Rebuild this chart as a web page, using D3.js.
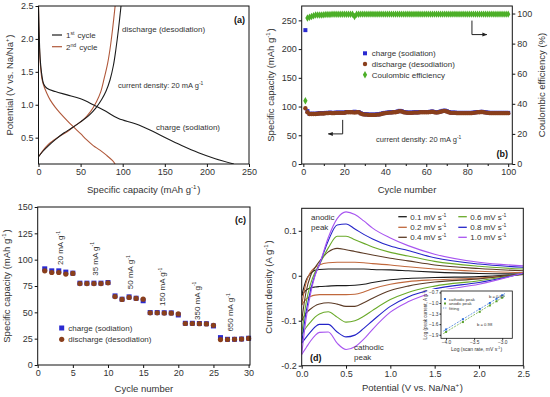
<!DOCTYPE html>
<html>
<head>
<meta charset="utf-8">
<script src="https://cdn.jsdelivr.net/npm/d3@7"></script>
<style>
  body { margin: 0; background: #fff; }
  svg text { font-family: "Liberation Sans", Arial, sans-serif; fill: #333; }
</style>
</head>
<body>
<svg id="fig" width="550" height="397"></svg>
<script>
// ---------- (a) galvanostatic profiles ----------
var charge1Cap = [0, 1, 2, 4, 6, 10, 20, 34, 50, 65, 80, 95, 115, 135, 152, 170, 190, 210, 232];
var charge1V   = [2.5, 2.0, 1.7, 1.45, 1.32, 1.25, 1.2, 1.15, 1.09, 1.0, 0.9, 0.79, 0.71, 0.6, 0.49, 0.38, 0.27, 0.18, 0.1];
var disch1Cap  = [0, 5, 12, 20, 30, 40, 50, 60, 68, 75, 80, 85, 89, 92, 95, 98];
var disch1V    = [0.21, 0.29, 0.38, 0.47, 0.57, 0.65, 0.74, 0.84, 0.95, 1.08, 1.2, 1.38, 1.6, 1.85, 2.15, 2.5];
var charge2Cap = [0, 0.8, 2, 4, 6, 10, 14, 20, 26, 34, 41, 50, 57, 65, 73, 81, 88, 91];
var charge2V   = [2.5, 2.0, 1.65, 1.4, 1.3, 1.17, 1.07, 0.96, 0.87, 0.76, 0.67, 0.56, 0.47, 0.38, 0.31, 0.23, 0.15, 0.1];
var disch2Cap  = [0, 5, 12, 18, 26, 34, 43, 53, 62, 69, 74, 78, 82, 85, 88, 91];
var disch2V    = [0.21, 0.3, 0.4, 0.46, 0.53, 0.59, 0.68, 0.77, 0.9, 1.05, 1.2, 1.4, 1.62, 1.85, 2.15, 2.5];

// ---------- (b) cycling at 20 mA/g ----------
var chargeB = [233,92,87.5,87.5,87.5,87.5,88,88.5,88.5,88.5, 89,89,89.5,89,89,89.5,89.5,89.5,89.5,89.5,
  90.5,90.5,90.5,90.5,91,90.5,90.5,88.5,87,86.5, 86.5,86,86,86,86,86.5,86.5,87.5,88.5,89,
  89.5,90,90,90.5,90.5,91.5,92.5,92,90.5,90, 89.5,89.5,89.5,90,90,90,90.5,90.5,90.5,90.5,
  90.5,91,91.5,90.5,90,90.5,91.5,92.5,93,92, 90.5,89.5,89.5,89.5,89,89,89,89,89,89,
  89,89,89.5,90,90.5,90.5,91,90.5,90,89.5, 89,89,89,89,89,89,89,89,89,89];
var dischargeB = [97,90,87,87,87,87,87.5,88,88,88, 88.5,88.5,89,88.5,88.5,89,89,89,89,89,
  90,90,90,90,89.5,90,90,88,86.5,86, 86,85.5,85.5,85.5,85.5,86,86,87,88,88.5,
  89,89.5,89.5,90,90,91,92,91.5,90,89.5, 89,89,89,89.5,89.5,89.5,90,90,90,90,
  90,90.5,91,90,89.5,90,91,92,92.5,91.5, 90,89,89,89,88.5,88.5,88.5,88.5,88.5,88.5,
  88.5,88.5,89,89.5,90,90,90.5,90,89.5,89, 88.5,88.5,88.5,88.5,88.5,88.5,88.5,88.5,88.5,88.5];
var ceB = [42,97,97.5,98,98.5,99,99,99,99,99.2, 99.3,99.4,99.4,99.5,99.5,99.5,99.5,99.5,99.5,99.5,
  99.5,99.5,99.5,99.5,98,99.5,99.5,99.6,99.6,99.6, 99.6,99.6,99.6,99.6,99.6,99.6,99.6,99.6,99.6,99.6,
  99.6,99.6,99.6,99.6,99.6,99.6,99.6,99.6,99.6,99.6, 99.6,99.6,99.6,99.6,99.6,99.6,99.6,99.6,99.6,99.6,
  99.6,99.6,99.6,99.6,99.6,99.6,99.6,99.6,99.6,99.6, 99.6,99.6,99.6,99.6,99.6,99.6,99.6,99.6,99.6,99.6,
  99.6,99.6,99.6,99.6,99.6,99.6,99.6,99.6,99.6,99.6, 99.6,99.6,99.6,99.6,99.6,99.6,99.6,99.6,99.6,99.6];

// ---------- (c) rate capability ----------
var chargeC = [91.3,89.4,89.4,88.2,87.2, 77.7,77.7,77.7,77.7,78.3, 65.6,62.5,64.7,63.4,61.0,
  49.8,49.8,49.6,49.5,47.5, 39.6,39.6,39.4,39.2,37.1, 26.0,24.4,24.4,24.7,25.4];
var dischargeC = [89.4,87.8,87.8,86.3,86.9, 77.3,77.3,77.3,77.3,78.0, 65.0,62.3,64.2,63.2,62.5,
  49.5,49.5,49.3,49.2,48.5, 39.4,39.4,39.2,39.0,37.7, 24.1,24.2,24.4,24.6,25.2];
var rateLabels = ["20", "35", "50", "150", "350", "650"];
var rateX = [3.2, 8.1, 13.1, 17.7, 22.6, 27.4];
var rateY = [95, 84.7, 72, 56, 42.8, 31.7];

// ---------- (d) cyclic voltammetry ----------
var cvV = [0, 0.05, 0.1, 0.15, 0.2, 0.3, 0.4, 0.5, 0.6, 0.7, 0.8, 1.0, 1.2, 1.5, 2.0, 2.5];
var scanRates = ["0.1", "0.2", "0.4", "0.6", "0.8", "1.0"];
var cvColors = ["#1c1c1c", "#c0683c", "#5c3b26", "#6aaa2a", "#2424c8", "#a855f0"];
var cvAnodic = [
  [-0.044, -0.01, 0.005, 0.012, 0.014, 0.015, 0.015, 0.015, 0.015, 0.015, 0.014, 0.013, 0.011, 0.008, 0.005, 0.004],
  [-0.065, -0.015, 0.008, 0.018, 0.024, 0.029, 0.030, 0.030, 0.030, 0.029, 0.027, 0.024, 0.020, 0.015, 0.010, 0.007],
  [-0.10, -0.035, 0.0, 0.018, 0.032, 0.053, 0.061, 0.058, 0.054, 0.050, 0.046, 0.039, 0.033, 0.024, 0.016, 0.011],
  [-0.13, -0.06, -0.018, 0.008, 0.025, 0.062, 0.088, 0.088, 0.080, 0.072, 0.064, 0.052, 0.044, 0.032, 0.021, 0.015],
  [-0.15, -0.08, -0.032, 0.002, 0.025, 0.078, 0.113, 0.115, 0.104, 0.092, 0.082, 0.066, 0.056, 0.040, 0.026, 0.019],
  [-0.175, -0.095, -0.04, 0.0, 0.025, 0.085, 0.127, 0.142, 0.136, 0.122, 0.106, 0.084, 0.067, 0.048, 0.030, 0.022]
];
var cvCathodic = [
  [-0.044, -0.032, -0.027, -0.025, -0.024, -0.023, -0.022, -0.022, -0.021, -0.019, -0.015, -0.009, -0.006, -0.004, -0.002, 0.003],
  [-0.065, -0.052, -0.046, -0.043, -0.042, -0.042, -0.042, -0.042, -0.041, -0.036, -0.029, -0.019, -0.013, -0.009, -0.005, 0.003],
  [-0.10, -0.083, -0.074, -0.067, -0.063, -0.060, -0.063, -0.068, -0.068, -0.060, -0.050, -0.033, -0.023, -0.014, -0.007, 0.004],
  [-0.13, -0.115, -0.103, -0.092, -0.085, -0.080, -0.092, -0.103, -0.100, -0.090, -0.077, -0.053, -0.037, -0.023, -0.011, 0.004],
  [-0.15, -0.137, -0.125, -0.114, -0.108, -0.108, -0.125, -0.136, -0.132, -0.117, -0.100, -0.068, -0.047, -0.029, -0.015, 0.005],
  [-0.175, -0.16, -0.145, -0.133, -0.126, -0.125, -0.150, -0.164, -0.158, -0.141, -0.119, -0.081, -0.058, -0.036, -0.019, 0.006]
];
// inset: log peak current vs log scan rate
var logRate = [-4.0, -3.7, -3.4, -3.22, -3.1, -3.0];
var logCathodic = [-1.75, -1.46, -1.17, -1.0, -0.88, -0.78];
var logAnodic = [-1.82, -1.54, -1.25, -1.07, -0.95, -0.85];

var svg = d3.select("#fig");
var TICK = 9, LAB = 9.5;
var blue = "#2a2ad0", brown = "#8a3f1c", green = "#4caf28";

svg.append("defs").append("marker")
  .attr("id", "ah").attr("viewBox", "0 0 10 10").attr("refX", 9).attr("refY", 5)
  .attr("markerWidth", 5).attr("markerHeight", 5).attr("orient", "auto")
  .append("path").attr("d", "M0,1L10,5L0,9Z").attr("fill", "#222");

// text with superscripts: parts = ["text", {sup:"-1"}, ...]
function rich(t, parts, fs) {
  var shift = fs * 0.4;
  parts.forEach(function(p) {
    if (typeof p === "string") {
      t.append("tspan").text(p);
    } else {
      t.append("tspan").attr("dy", -shift).attr("font-size", fs * 0.65).text(p.sup);
      t.append("tspan").attr("dy", shift).text("\u200a");
    }
  });
  return t;
}

function addText(g, x, y, parts, fs, opt) {
  opt = opt || {};
  var t = g.append("text").attr("x", x).attr("y", y).attr("font-size", fs)
    .attr("text-anchor", opt.anchor || "start");
  if (opt.bold) t.attr("font-weight", "bold").style("fill", "#111");
  if (opt.rotate) t.attr("transform", "rotate(-90," + x + "," + y + ")");
  return rich(t, parts, fs);
}

function frame(L, R, T, B) {
  svg.append("rect").attr("x", L).attr("y", T).attr("width", R - L).attr("height", B - T)
    .attr("fill", "none").attr("stroke", "#111").attr("stroke-width", 1);
}

function styleAxis(g) {
  g.select(".domain").remove();
  g.selectAll(".tick line").attr("stroke", "#111");
  g.selectAll(".tick text").attr("font-size", TICK).style("fill", "#333")
    .attr("font-family", "Liberation Sans, Arial, sans-serif");
}

// ================= (a) =================
(function() {
  var L = 38.5, R = 249, T = 6, B = 164;
  var x = d3.scaleLinear().domain([0, 250]).range([L, R]);
  var y = d3.scaleLinear().domain([0.1, 2.5]).range([B, T]);
  svg.append("g").attr("transform", "translate(0," + B + ")")
    .call(d3.axisBottom(x).tickValues([0, 50, 100, 150, 200, 250]).tickSize(3).tickPadding(2)).call(styleAxis);
  svg.append("g").attr("transform", "translate(" + L + ",0)")
    .call(d3.axisLeft(y).tickValues([0.5, 1.0, 1.5, 2.0, 2.5]).tickFormat(d3.format(".1f")).tickSize(3).tickPadding(2)).call(styleAxis);
  var clip = svg.append("clipPath").attr("id", "clipA").append("rect")
    .attr("x", L).attr("y", T).attr("width", R - L).attr("height", B - T);
  var g = svg.append("g").attr("clip-path", "url(#clipA)");
  var line = d3.line().x(function(d) { return x(d[0]); }).y(function(d) { return y(d[1]); }).curve(d3.curveMonotoneY);
  var line2 = d3.line().x(function(d) { return x(d[0]); }).y(function(d) { return y(d[1]); }).curve(d3.curveCatmullRom);
  var curves = [
    [charge2Cap, charge2V, "#b0583a"], [disch2Cap, disch2V, "#b0583a"],
    [charge1Cap, charge1V, "#1c1c1c"], [disch1Cap, disch1V, "#1c1c1c"]
  ];
  curves.forEach(function(c) {
    g.append("path").datum(d3.zip(c[0], c[1])).attr("d", line2)
      .attr("fill", "none").attr("stroke", c[2]).attr("stroke-width", 1.1);
  });
  frame(L, R, T, B);
  // legend
  [["1", "st", "#1c1c1c", 35], ["2", "nd", "#b0583a", 46.7]].forEach(function(l) {
    svg.append("line").attr("x1", 52).attr("x2", 62).attr("y1", l[3]).attr("y2", l[3])
      .attr("stroke", l[2]).attr("stroke-width", 1.2);
    addText(svg, 66, l[3] + 3, [l[0], {sup: l[1]}, " cycle"], 8);
  });
  addText(svg, 122, 32, ["discharge (desodiation)"], 8);
  addText(svg, 118, 88, ["current density: 20 mA g", {sup: "-1"}], 7.5);
  addText(svg, 156, 130, ["charge (sodiation)"], 8);
  addText(svg, 245, 23, ["(a)"], 9, {bold: true, anchor: "end"});
  addText(svg, (L + R) / 2, 193, ["Specific capacity (mAh g", {sup: "-1"}, ")"], LAB, {anchor: "middle"});
  addText(svg, 13, (T + B) / 2, ["Potential (V vs. Na/Na", {sup: "+"}, ")"], LAB, {anchor: "middle", rotate: true});
})();

// ================= (b) =================
(function() {
  var L = 301.7, R = 512.3, T = 6, B = 164;
  var x = d3.scaleLinear().domain([-0.8, 102]).range([L, R]);
  var y = d3.scaleLinear().domain([0, 275]).range([B, T]);
  var y2 = d3.scaleLinear().domain([0, 105]).range([B, T]);
  svg.append("g").attr("transform", "translate(0," + B + ")")
    .call(d3.axisBottom(x).tickValues([0, 20, 40, 60, 80, 100]).tickSize(3).tickPadding(2)).call(styleAxis);
  svg.append("g").attr("transform", "translate(0," + B + ")")
    .call(d3.axisBottom(x).tickValues([10, 30, 50, 70, 90]).tickSize(2).tickFormat("")).call(styleAxis);
  svg.append("g").attr("transform", "translate(" + L + ",0)")
    .call(d3.axisLeft(y).tickValues([0, 50, 100, 150, 200, 250]).tickSize(3).tickPadding(2)).call(styleAxis);
  svg.append("g").attr("transform", "translate(" + R + ",0)")
    .call(d3.axisRight(y2).tickValues([0, 20, 40, 60, 80, 100]).tickSize(3).tickPadding(2)).call(styleAxis);
  var cyc = d3.range(1, 101);
  var g = svg.append("g");
  g.selectAll(".cb").data(cyc).enter().append("rect")
    .attr("x", function(d) { return x(d) - 2; }).attr("y", function(d, i) { return y(chargeB[i]) - 2; })
    .attr("width", 4).attr("height", 4).attr("fill", blue);
  g.selectAll(".db").data(cyc).enter().append("circle")
    .attr("cx", function(d) { return x(d); }).attr("cy", function(d, i) { return y(dischargeB[i]); })
    .attr("r", 2.2).attr("fill", brown);
  g.selectAll(".eb").data(cyc).enter().append("path")
    .attr("d", d3.symbol(d3.symbolDiamond, 16))
    .attr("transform", function(d, i) { return "translate(" + x(d) + "," + y2(ceB[i]) + ")"; })
    .attr("fill", green);
  frame(L, R, T, B);
  // arrows
  var a1 = [[82.3, 95.3], [82.3, 86], [89.6, 86]];
  svg.append("path").attr("d", d3.line().x(function(d) { return x(d[0]); }).y(function(d) { return y2(d[1]); })(a1))
    .attr("fill", "none").attr("stroke", "#222").attr("stroke-width", 1).attr("marker-end", "url(#ah)");
  var a2 = [[19.2, 76.8], [19.2, 52.4], [12.2, 52.4]];
  svg.append("path").attr("d", d3.line().x(function(d) { return x(d[0]); }).y(function(d) { return y(d[1]); })(a2))
    .attr("fill", "none").attr("stroke", "#222").attr("stroke-width", 1).attr("marker-end", "url(#ah)");
  // legend
  svg.append("rect").attr("x", 363).attr("y", 51.3).attr("width", 4).attr("height", 4).attr("fill", blue);
  svg.append("circle").attr("cx", 365).attr("cy", 64).attr("r", 2.2).attr("fill", brown);
  svg.append("path").attr("d", d3.symbol(d3.symbolDiamond, 16)).attr("transform", "translate(365,74.7)").attr("fill", green);
  addText(svg, 371.7, 56.3, ["charge (sodiation)"], 8);
  addText(svg, 371.7, 67, ["discharge (desodiation)"], 8);
  addText(svg, 371.7, 77.7, ["Coulombic efficiency"], 8);
  addText(svg, 376, 142, ["current density: 20 mA g", {sup: "-1"}], 7.5);
  addText(svg, 508, 157, ["(b)"], 9, {bold: true, anchor: "end"});
  addText(svg, (L + R) / 2, 193, ["Cycle number"], LAB, {anchor: "middle"});
  addText(svg, 274, (T + B) / 2, ["Specific capacity (mAh g", {sup: "-1"}, ")"], LAB, {anchor: "middle", rotate: true});
  addText(svg, 545, (T + B) / 2, ["Coulombic efficiency (%)"], LAB, {anchor: "middle", rotate: true});
})();

// ================= (c) =================
(function() {
  var L = 37.7, R = 250, T = 207, B = 365;
  var x = d3.scaleLinear().domain([0, 30.2]).range([L, R]);
  var y = d3.scaleLinear().domain([0, 150]).range([B, T]);
  svg.append("g").attr("transform", "translate(0," + B + ")")
    .call(d3.axisBottom(x).tickValues([0, 5, 10, 15, 20, 25, 30]).tickSize(3).tickPadding(2)).call(styleAxis);
  svg.append("g").attr("transform", "translate(" + L + ",0)")
    .call(d3.axisLeft(y).tickValues([0, 25, 50, 75, 100, 125, 150]).tickSize(3).tickPadding(2)).call(styleAxis);
  var cyc = d3.range(1, 31);
  svg.selectAll(".cc").data(cyc).enter().append("rect")
    .attr("x", function(d) { return x(d) - 2.5; }).attr("y", function(d, i) { return y(chargeC[i]) - 2.5; })
    .attr("width", 5).attr("height", 5).attr("fill", blue);
  svg.selectAll(".dc").data(cyc).enter().append("circle")
    .attr("cx", function(d) { return x(d); }).attr("cy", function(d, i) { return y(dischargeC[i]); })
    .attr("r", 2.6).attr("fill", brown);
  frame(L, R, T, B);
  rateLabels.forEach(function(r, i) {
    addText(svg, x(rateX[i]) + 3, y(rateY[i]), [r + " mA g", {sup: "-1"}], 8, {rotate: true});
  });
  svg.append("rect").attr("x", 59.2).attr("y", 325.5).attr("width", 5).attr("height", 5).attr("fill", blue);
  svg.append("circle").attr("cx", 61.7).attr("cy", 339.3).attr("r", 2.6).attr("fill", brown);
  addText(svg, 68.3, 331, ["charge (sodiation)"], 8);
  addText(svg, 68.3, 342.3, ["discharge (desodiation)"], 8);
  addText(svg, 246, 223, ["(c)"], 9, {bold: true, anchor: "end"});
  addText(svg, (L + R) / 2, 392, ["Cycle number"], LAB, {anchor: "middle"});
  addText(svg, 10, (T + B) / 2, ["Specific capacity (mAh g", {sup: "-1"}, ")"], LAB, {anchor: "middle", rotate: true});
})();

// ================= (d) =================
(function() {
  var L = 301.7, R = 523.3, T = 208.3, B = 365.7;
  var x = d3.scaleLinear().domain([0, 2.5]).range([L, R]);
  var y = d3.scaleLinear().domain([-0.2, 0.15]).range([B, T]);
  svg.append("g").attr("transform", "translate(0," + B + ")")
    .call(d3.axisBottom(x).tickValues([0, 0.5, 1.0, 1.5, 2.0, 2.5]).tickFormat(d3.format(".1f")).tickSize(3).tickPadding(2)).call(styleAxis);
  svg.append("g").attr("transform", "translate(" + L + ",0)")
    .call(d3.axisLeft(y).tickValues([-0.2, -0.1, 0, 0.1]).tickFormat(function(d) { return d === 0 ? "0" : String(d); }).tickSize(3).tickPadding(2)).call(styleAxis);
  svg.append("clipPath").attr("id", "clipD").append("rect")
    .attr("x", L).attr("y", T).attr("width", R - L).attr("height", B - T);
  var g = svg.append("g").attr("clip-path", "url(#clipD)");
  var line = d3.line().x(function(d) { return x(d[0]); }).y(function(d) { return y(d[1]); }).curve(d3.curveMonotoneX);
  scanRates.forEach(function(s, i) {
    g.append("path").datum(d3.zip(cvV, cvAnodic[i])).attr("d", line)
      .attr("fill", "none").attr("stroke", cvColors[i]).attr("stroke-width", 1.1);
    g.append("path").datum(d3.zip(cvV, cvCathodic[i])).attr("d", line)
      .attr("fill", "none").attr("stroke", cvColors[i]).attr("stroke-width", 1.1);
  });
  frame(L, R, T, B);
  // legend
  scanRates.forEach(function(s, i) {
    var col = Math.floor(i / 3), row = i % 3;
    var lx = col ? 458.3 : 398.3, ly = [216.7, 227.3, 237.3][row];
    svg.append("line").attr("x1", lx).attr("x2", lx + 8.5).attr("y1", ly).attr("y2", ly)
      .attr("stroke", cvColors[i]).attr("stroke-width", 1.3);
    addText(svg, lx + 12, ly + 3, [s + " mV s", {sup: "-1"}], 8);
  });
  addText(svg, 311, 219.5, ["anodic"], 8);
  addText(svg, 311, 229.5, ["peak"], 8);
  addText(svg, 354, 350, ["cathodic"], 8);
  addText(svg, 354, 360, ["peak"], 8);
  addText(svg, 310, 361, ["(d)"], 9, {bold: true});
  addText(svg, (L + R) / 2, 391, ["Potential (V vs. Na/Na", {sup: "+"}, ")"], LAB, {anchor: "middle"});
  addText(svg, 272, (T + B) / 2, ["Current density (A g", {sup: "-1"}, ")"], LAB, {anchor: "middle", rotate: true});

  // inset
  var iL = 441, iR = 512.3, iT = 291, iB = 338.3;
  svg.append("rect").attr("x", iL - 14).attr("y", iT - 2).attr("width", iR - iL + 16).attr("height", iB - iT + 17)
    .attr("fill", "#fff");
  var ix = d3.scaleLinear().domain([-4.09, -2.82]).range([iL, iR]);
  var iy = d3.scaleLinear().domain([-2.0, -0.66]).range([iB, iT]);
  var sa = function(g) {
    g.select(".domain").remove();
    g.selectAll(".tick line").attr("stroke", "#111");
    g.selectAll(".tick text").attr("font-size", 4.8).style("fill", "#333");
  };
  svg.append("g").attr("transform", "translate(0," + iB + ")")
    .call(d3.axisBottom(ix).tickValues([-4.0, -3.5, -3.0]).tickFormat(d3.format(".1f")).tickSize(1.5).tickPadding(1)).call(sa);
  svg.append("g").attr("transform", "translate(" + iL + ",0)")
    .call(d3.axisLeft(iy).tickValues([-1.9, -1.6, -1.3, -1.0, -0.7]).tickFormat(d3.format(".1f")).tickSize(1.5).tickPadding(1)).call(sa);
  svg.append("rect").attr("x", iL).attr("y", iT).attr("width", iR - iL).attr("height", iB - iT)
    .attr("fill", "none").attr("stroke", "#111").attr("stroke-width", 0.8);
  var fitC = d3.line().x(function(d) { return ix(d[0]); }).y(function(d) { return iy(d[1]); });
  [[logCathodic, "#2f6fd8"], [logAnodic, "#5aa02a"]].forEach(function(s) {
    var pts = d3.zip(logRate, s[0]);
    svg.append("path").attr("d", fitC([[-4.05, s[0][0] - 0.05 * 0.97], [-2.95, s[0][5] + 0.05 * 0.97]]))
      .attr("stroke", s[1]).attr("stroke-width", 0.7).attr("stroke-dasharray", "2,1.2").attr("fill", "none");
    svg.selectAll(null).data(pts).enter().append("rect")
      .attr("x", function(d) { return ix(d[0]) - 1; }).attr("y", function(d) { return iy(d[1]) - 1; })
      .attr("width", 2).attr("height", 2).attr("fill", s[1]);
  });
  var lg = [["cathodic peak", "#2f6fd8"], ["anodic peak", "#5aa02a"], ["fitting", "#333"]];
  lg.forEach(function(l, i) {
    var ly = 299 + i * 4.5;
    if (i < 2) svg.append("rect").attr("x", 444).attr("y", ly - 1).attr("width", 2).attr("height", 2).attr("fill", l[1]);
    else svg.append("line").attr("x1", 443).attr("x2", 447).attr("y1", ly).attr("y2", ly)
      .attr("stroke", "#2f6fd8").attr("stroke-width", 0.7).attr("stroke-dasharray", "1,0.8");
    addText(svg, 449, ly + 1.6, [l[0]], 4.2);
  });
  addText(svg, 489, 297.5, ["b = 0.97"], 4.2);
  addText(svg, 477, 325.5, ["b = 0.98"], 4.2);
  addText(svg, (iL + iR) / 2, 351, ["Log (scan rate, mV s", {sup: "-1"}, ")"], 5, {anchor: "middle"});
  addText(svg, 427, (iT + iB) / 2, ["Log (peak current, A g", {sup: "-1"}, ")"], 4.6, {anchor: "middle", rotate: true});
})();
</script>
</body>
</html>
